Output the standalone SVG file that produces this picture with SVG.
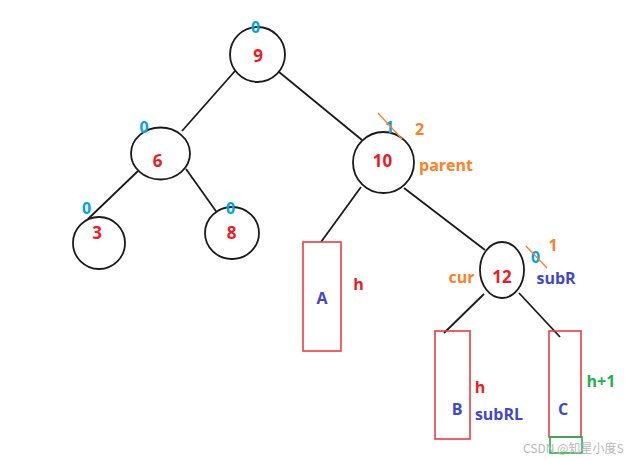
<svg xmlns="http://www.w3.org/2000/svg" width="626" height="459" viewBox="0 0 626 459">
<style>
.n{fill:#fff;stroke:#1a1a1a;stroke-width:1.8}
.e line{stroke:#1a1a1a;stroke-width:1.8}
text{font-family:"Open Sans","Noto Sans","DejaVu Sans",sans-serif;font-weight:bold;text-anchor:middle}
.v{fill:#ED1C24;font-size:17px}
.b{fill:#00A2E8;font-size:16px}
.o{fill:#FF7F27;font-size:16px}
.p{fill:#3F48CC;font-size:16px}
.r{fill:#ED1C24;font-size:16px}
.g{fill:#22B14C;font-size:16px}
.box{fill:none;stroke:#EE3B43;stroke-width:1.6}
.st{stroke:#FF7F27;stroke-width:1.3}
</style>
<rect width="626" height="459" fill="#fff"/>
<g id="connectors" class="e">
<line x1="235" y1="71" x2="182" y2="131"/>
<line x1="279" y1="72" x2="362" y2="140"/>
<line x1="138" y1="171" x2="88" y2="219"/>
<line x1="186" y1="169" x2="218" y2="214"/>
<line x1="361" y1="187" x2="321" y2="242"/>
<line x1="404" y1="188" x2="485" y2="250"/>
<line x1="484" y1="294" x2="444" y2="333"/>
<line x1="519" y1="293" x2="560" y2="337"/>
</g>
<g id="node9"><circle class="n" cx="257.5" cy="54.5" r="27.5"/><text class="v" x="258" y="62">9</text><text class="b" x="255.5" y="33">0</text></g>
<g id="node6"><ellipse class="n" cx="160.5" cy="153.5" rx="29.5" ry="26"/><text class="v" x="157.5" y="167">6</text><text class="b" x="144" y="133">0</text></g>
<g id="node10"><circle class="n" cx="383.5" cy="162.5" r="30.5"/><text class="v" x="382.5" y="167">10</text><text class="b" x="389.5" y="133">1</text><line class="st" x1="378" y1="113" x2="402" y2="139"/><text class="o" x="419.5" y="135">2</text><text class="o" x="446" y="171">parent</text></g>
<g id="node3"><circle class="n" cx="99" cy="243" r="26"/><text class="v" x="97" y="239">3</text><text class="b" x="86.5" y="214">0</text></g>
<g id="node8"><ellipse class="n" cx="232" cy="233" rx="27" ry="26"/><text class="v" x="231.5" y="239">8</text><text class="b" x="230.5" y="214">0</text></g>
<g id="node12"><ellipse class="n" cx="502" cy="270" rx="22" ry="28"/><text class="v" x="502" y="283">12</text><text class="b" x="535.5" y="263">0</text><line class="st" x1="526" y1="246" x2="547" y2="268"/><text class="o" x="553" y="251">1</text><text class="o" x="461.5" y="283">cur</text><text class="p" x="556" y="284">subR</text></g>
<g id="nodeA"><rect class="box" x="303" y="242" width="38" height="109"/><text class="p" x="322" y="304">A</text><text class="r" x="358.5" y="290">h</text></g>
<g id="nodeB"><rect class="box" x="435" y="331" width="35" height="108"/><text class="p" x="457" y="415">B</text><text class="r" x="480" y="393">h</text><text class="p" x="499" y="420">subRL</text></g>
<g id="nodeC"><rect class="box" x="549" y="331" width="32" height="106"/><rect x="550" y="437" width="32" height="16" fill="none" stroke="#22B14C" stroke-width="1.6"/><text class="p" x="563" y="415">C</text><text class="g" x="601" y="387">h+1</text></g>
<text x="523" y="453" style="font-family:'Noto Sans CJK SC','Noto Sans',sans-serif;font-weight:normal;font-size:12px;fill:#b8b8b8;text-anchor:start">CSDN @知星小度S</text>
</svg>
